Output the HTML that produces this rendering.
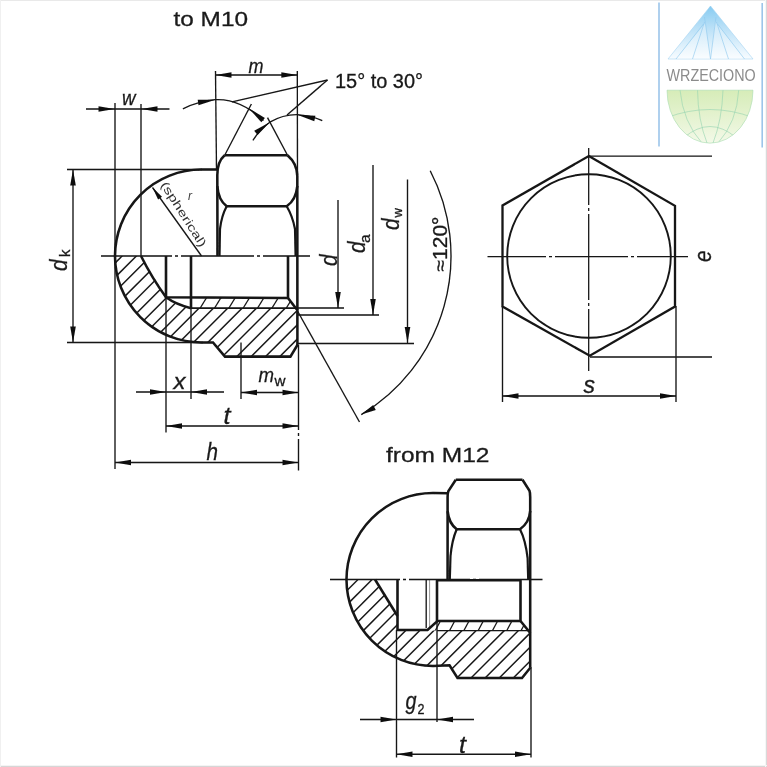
<!DOCTYPE html>
<html><head><meta charset="utf-8"><title>Cap nut drawing</title>
<style>
html,body{margin:0;padding:0;background:#fff;}
body{width:767px;height:767px;overflow:hidden;position:relative;}
svg{display:block;position:absolute;left:0;top:0;}
text{font-family:"Liberation Sans",sans-serif;}
</style></head><body>
<svg width="767" height="767" viewBox="0 0 767 767">
<defs>
<linearGradient id="gb" x1="0" y1="0" x2="0" y2="1"><stop offset="0" stop-color="#86cbf1"/><stop offset="0.4" stop-color="#b9e0f7"/><stop offset="1" stop-color="#f8fcff"/></linearGradient>
<linearGradient id="gg" x1="0" y1="0" x2="0" y2="1"><stop offset="0" stop-color="#d6ecb8"/><stop offset="1" stop-color="#f3f9e8"/></linearGradient>
<filter id="soft" x="-2%" y="-2%" width="104%" height="104%"><feGaussianBlur stdDeviation="0.4"/></filter>

<clipPath id="c1"><path d="M115,256 A86.5,86.5 0 0 0 201.5,342.5 L213,342.5 L225,356.6 L290.4,356.6 L297.7,344.5 L297.5,311 L288,308.2 L191,308.2 Q176,304.5 166,297.3 L141,256 Z"/></clipPath>
<clipPath id="c1b"><path d="M191,297.8 L288,297.8 L296,308.2 L191,308.2 Z"/></clipPath>
<clipPath id="c2"><path d="M346.5,579.5 A86.5,86.5 0 0 0 433,666 L449.5,665.3 L457.5,678 L522,678 L530.5,667.5 L530.5,633 L528,630.5 L397.5,630.5 L397.5,616 L375,579.5 Z"/></clipPath>
<clipPath id="c2b"><path d="M437.5,621 L520.5,621 L529,630.5 L427.5,630.5 Z"/></clipPath>
</defs>
<rect x="0" y="0" width="767" height="767" fill="#fff"/>
<rect x="0" y="0" width="767" height="1" fill="#e9e9e9"/><rect x="0" y="766" width="767" height="1" fill="#d6d6d6"/><rect x="766" y="0" width="1" height="767" fill="#d9d9d9"/><rect x="0" y="765" width="767" height="1" fill="#f4f4f4"/><rect x="765" y="0" width="1" height="767" fill="#f6f6f6"/><rect x="0" y="0" width="1" height="767" fill="#f0f0f0"/>
<g filter="url(#soft)" stroke="#151515" fill="none" stroke-linecap="butt">
<g clip-path="url(#c1)" stroke-width="1.45">
<line x1="5.7" y1="358" x2="108.7" y2="255"/>
<line x1="20.1" y1="358" x2="123.1" y2="255"/>
<line x1="34.4" y1="358" x2="137.4" y2="255"/>
<line x1="48.8" y1="358" x2="151.8" y2="255"/>
<line x1="63.1" y1="358" x2="166.1" y2="255"/>
<line x1="77.5" y1="358" x2="180.5" y2="255"/>
<line x1="91.8" y1="358" x2="194.8" y2="255"/>
<line x1="106.2" y1="358" x2="209.2" y2="255"/>
<line x1="120.5" y1="358" x2="223.5" y2="255"/>
<line x1="134.9" y1="358" x2="237.9" y2="255"/>
<line x1="149.2" y1="358" x2="252.2" y2="255"/>
<line x1="163.6" y1="358" x2="266.6" y2="255"/>
<line x1="177.9" y1="358" x2="280.9" y2="255"/>
<line x1="192.3" y1="358" x2="295.3" y2="255"/>
<line x1="206.6" y1="358" x2="309.6" y2="255"/>
<line x1="221.0" y1="358" x2="324.0" y2="255"/>
<line x1="235.4" y1="358" x2="338.4" y2="255"/>
<line x1="249.7" y1="358" x2="352.7" y2="255"/>
<line x1="264.1" y1="358" x2="367.1" y2="255"/>
<line x1="278.4" y1="358" x2="381.4" y2="255"/>
<line x1="292.8" y1="358" x2="395.8" y2="255"/>
</g>
<g clip-path="url(#c1b)" stroke-width="1.25">
<line x1="197.8" y1="312" x2="208.8" y2="294"/>
<line x1="212.2" y1="312" x2="223.2" y2="294"/>
<line x1="226.5" y1="312" x2="237.5" y2="294"/>
<line x1="240.8" y1="312" x2="251.8" y2="294"/>
<line x1="255.2" y1="312" x2="266.2" y2="294"/>
<line x1="269.6" y1="312" x2="280.6" y2="294"/>
<line x1="283.9" y1="312" x2="294.9" y2="294"/>
</g>
<path d="M115,256 A86.5,86.5 0 0 1 201.5,169.5 L217.5,169.5" stroke-width="2.55" fill="none" />
<path d="M115,256 A86.5,86.5 0 0 0 201.5,342.5 L213,342.5 L225,356.6 L290.4,356.6 L297.7,344.5" stroke-width="2.55" fill="none" />
<path d="M224.7,155.2 L287.5,155.2" stroke-width="2.55" fill="none" />
<path d="M224.7,155.2 C219,160 217.3,166 217.3,175 L217.5,256" stroke-width="2.55" fill="none" />
<path d="M287.5,155.2 C293,160 297.3,167 297.3,176 L297.4,345" stroke-width="2.55" fill="none" />
<path d="M217.3,186 C218,195 221,202 226.7,206.3 L286.7,206.3 C293,202 296.5,195 297.3,186" stroke-width="2.55" fill="none" />
<path d="M226.7,206.3 Q221.5,216 220,229 L219.5,256" stroke-width="2.2" fill="none" />
<path d="M286.7,206.3 Q292.5,216 295,229 L295.6,256" stroke-width="2.2" fill="none" />
<path d="M141,256 Q152,278 166,297.3 Q176,304.5 191,308.2" stroke-width="2.55" fill="none" />
<path d="M166,256 L166,297.3 L288,297.9 L288,256" stroke-width="2.55" fill="none" />
<line x1="191" y1="256" x2="191" y2="308.2" stroke-width="2.55" />
<line x1="191" y1="308.2" x2="296.5" y2="308.2" stroke-width="1.7" />
<line x1="288" y1="297.9" x2="297.6" y2="310.5" stroke-width="2.55" />
<path d="M101,256 H172 M175,256 H178 M181,256 H254 M257,256 H260 M263,256 H310" stroke-width="1.4" fill="none" />
<line x1="115" y1="103" x2="115" y2="469" stroke-width="1.35" />
<line x1="141" y1="104" x2="141" y2="256" stroke-width="1.35" />
<line x1="215.5" y1="71" x2="216.5" y2="170" stroke-width="1.35" />
<line x1="297.3" y1="71" x2="297.5" y2="175" stroke-width="1.35" />
<line x1="166" y1="296" x2="166" y2="432.5" stroke-width="1.35" />
<line x1="191" y1="307" x2="191" y2="399" stroke-width="1.35" />
<line x1="241" y1="342.5" x2="241" y2="399" stroke-width="1.35" />
<path d="M298.5,345 V430 M298.5,433 V436 M298.5,439 V470.5" stroke-width="1.35" fill="none" />
<line x1="67" y1="169.5" x2="202" y2="169.5" stroke-width="1.35" />
<line x1="67" y1="342.5" x2="203" y2="342.5" stroke-width="1.35" />
<line x1="297" y1="343.5" x2="414" y2="343.5" stroke-width="1.35" />
<line x1="297" y1="308" x2="344" y2="308" stroke-width="1.35" />
<line x1="297" y1="315" x2="379" y2="315" stroke-width="1.35" />
<line x1="297.5" y1="311" x2="359.5" y2="422" stroke-width="1.35" />
<line x1="224.7" y1="155.2" x2="251.4" y2="104" stroke-width="1.35" />
<line x1="287.5" y1="155.2" x2="267.5" y2="117.6" stroke-width="1.35" />
<path d="M182.9,108.8 Q199,101 215.4,99.7 Q240,98.5 263.5,120.4" stroke-width="1.35" fill="none" />
<path d="M252.9,140.4 Q260,129 269.8,122.2 Q283,114.5 297.2,114.7 Q310,115.5 322.3,120.6" stroke-width="1.35" fill="none" />
<polygon points="215.4,99.8 198.5,105.2 197.7,99.7" fill="#111" stroke="none"/>
<polygon points="248.5,107.9 264.9,118.0 261.3,122.3" fill="#111" stroke="none"/>
<polygon points="269.8,122.2 257.6,135.1 254.2,130.7" fill="#111" stroke="none"/>
<polygon points="297.2,114.8 315.4,115.8 314.3,121.2" fill="#111" stroke="none"/>
<line x1="327.5" y1="80" x2="232" y2="101.8" stroke-width="1.35" />
<line x1="327.5" y1="80" x2="287" y2="115" stroke-width="1.35" />
<line x1="86" y1="109" x2="169.5" y2="109" stroke-width="1.35" />
<polygon points="114.5,109.0 98.5,111.8 98.5,106.2" fill="#111" stroke="none"/>
<polygon points="141.5,109.0 157.5,106.2 157.5,111.8" fill="#111" stroke="none"/>
<line x1="215.5" y1="75" x2="297.3" y2="75" stroke-width="1.35" />
<polygon points="215.5,75.0 231.5,72.2 231.5,77.8" fill="#111" stroke="none"/>
<polygon points="297.3,75.0 281.3,77.8 281.3,72.2" fill="#111" stroke="none"/>
<line x1="73" y1="169.5" x2="73" y2="342.5" stroke-width="1.35" />
<polygon points="73.0,169.5 75.8,185.5 70.2,185.5" fill="#111" stroke="none"/>
<polygon points="73.0,342.5 70.2,326.5 75.8,326.5" fill="#111" stroke="none"/>
<line x1="136" y1="392" x2="224" y2="392" stroke-width="1.35" />
<polygon points="166.0,392.0 150.0,394.8 150.0,389.2" fill="#111" stroke="none"/>
<polygon points="191.0,392.0 207.0,389.2 207.0,394.8" fill="#111" stroke="none"/>
<line x1="241" y1="392.5" x2="298.5" y2="392.5" stroke-width="1.35" />
<polygon points="241.0,392.5 257.0,389.7 257.0,395.3" fill="#111" stroke="none"/>
<polygon points="298.5,392.5 282.5,395.3 282.5,389.7" fill="#111" stroke="none"/>
<line x1="166" y1="426" x2="298.5" y2="426" stroke-width="1.35" />
<polygon points="166.0,426.0 182.0,423.2 182.0,428.8" fill="#111" stroke="none"/>
<polygon points="298.5,426.0 282.5,428.8 282.5,423.2" fill="#111" stroke="none"/>
<line x1="115" y1="462.5" x2="298.5" y2="462.5" stroke-width="1.35" />
<polygon points="115.0,462.5 131.0,459.7 131.0,465.3" fill="#111" stroke="none"/>
<polygon points="298.5,462.5 282.5,465.3 282.5,459.7" fill="#111" stroke="none"/>
<line x1="338" y1="200" x2="338" y2="308" stroke-width="1.35" />
<polygon points="338.0,308.0 335.2,292.0 340.8,292.0" fill="#111" stroke="none"/>
<line x1="373" y1="165" x2="373" y2="315" stroke-width="1.35" />
<polygon points="373.0,315.0 370.2,299.0 375.8,299.0" fill="#111" stroke="none"/>
<line x1="407.5" y1="179.5" x2="407.5" y2="343" stroke-width="1.35" />
<polygon points="407.5,343.0 404.7,327.0 410.3,327.0" fill="#111" stroke="none"/>
<path d="M430.2,170.8 A185,185 0 0 1 361.3,414.6" stroke-width="1.35" fill="none" />
<polygon points="361.3,414.6 373.2,405.1 375.8,410.0" fill="#111" stroke="none"/>
<line x1="152.5" y1="187.5" x2="201.5" y2="256" stroke-width="1.35" />
<polygon points="152.5,187.5 162.0,196.7 158.1,199.5" fill="#111" stroke="none"/>
<polygon points="588.8,156 675,205.8 675,306.5 589.8,355.8 502.5,306.5 502.5,205.5" stroke-width="2.3"/>
<circle cx="589" cy="256" r="81.8" stroke-width="1.9"/>
<path d="M487.5,256.7 H546 M549,256.7 H552 M555,256.7 H628 M631,256.7 H634 M637,256.7 H688" stroke-width="1.3" fill="none" />
<path d="M588.7,148 V205 M588.7,208 V211 M588.7,214 V300 M588.7,303 V306 M588.7,309 V371" stroke-width="1.3" fill="none" />
<line x1="588.5" y1="156.2" x2="712" y2="156.2" stroke-width="1.3" />
<line x1="590" y1="357" x2="712" y2="357" stroke-width="1.3" />
<line x1="502.5" y1="306" x2="502.5" y2="402" stroke-width="1.35" />
<line x1="676" y1="306" x2="676" y2="402" stroke-width="1.35" />
<line x1="502.5" y1="396" x2="676" y2="396" stroke-width="1.35" />
<polygon points="502.5,396.0 518.5,393.2 518.5,398.8" fill="#111" stroke="none"/>
<polygon points="676.0,396.0 660.0,398.8 660.0,393.2" fill="#111" stroke="none"/>
<g clip-path="url(#c2)" stroke-width="1.45">
<line x1="229.3" y1="680" x2="331.3" y2="578"/>
<line x1="243.4" y1="680" x2="345.4" y2="578"/>
<line x1="257.5" y1="680" x2="359.5" y2="578"/>
<line x1="271.6" y1="680" x2="373.6" y2="578"/>
<line x1="285.7" y1="680" x2="387.7" y2="578"/>
<line x1="299.8" y1="680" x2="401.8" y2="578"/>
<line x1="313.9" y1="680" x2="415.9" y2="578"/>
<line x1="328.0" y1="680" x2="430.0" y2="578"/>
<line x1="342.1" y1="680" x2="444.1" y2="578"/>
<line x1="356.2" y1="680" x2="458.2" y2="578"/>
<line x1="370.3" y1="680" x2="472.3" y2="578"/>
<line x1="384.4" y1="680" x2="486.4" y2="578"/>
<line x1="398.5" y1="680" x2="500.5" y2="578"/>
<line x1="412.6" y1="680" x2="514.6" y2="578"/>
<line x1="426.7" y1="680" x2="528.7" y2="578"/>
<line x1="440.8" y1="680" x2="542.8" y2="578"/>
<line x1="454.9" y1="680" x2="556.9" y2="578"/>
<line x1="469.0" y1="680" x2="571.0" y2="578"/>
<line x1="483.1" y1="680" x2="585.1" y2="578"/>
<line x1="497.2" y1="680" x2="599.2" y2="578"/>
<line x1="511.3" y1="680" x2="613.3" y2="578"/>
<line x1="525.4" y1="680" x2="627.4" y2="578"/>
</g>
<g clip-path="url(#c2b)" stroke-width="1.25">
<line x1="419.7" y1="633" x2="427.7" y2="618"/>
<line x1="434.0" y1="633" x2="442.0" y2="618"/>
<line x1="448.3" y1="633" x2="456.3" y2="618"/>
<line x1="462.6" y1="633" x2="470.6" y2="618"/>
<line x1="476.9" y1="633" x2="484.9" y2="618"/>
<line x1="491.2" y1="633" x2="499.2" y2="618"/>
<line x1="505.5" y1="633" x2="513.5" y2="618"/>
<line x1="519.8" y1="633" x2="527.8" y2="618"/>
</g>
<path d="M346.5,579.5 A86.5,86.5 0 0 1 433,493 L447.5,493.2" stroke-width="2.55" fill="none" />
<path d="M346.5,579.5 A86.5,86.5 0 0 0 433,666 L449.5,665.3 L457.5,678 L522,678 L530.5,667.5" stroke-width="2.55" fill="none" />
<path d="M455.8,479.7 L522.5,479.7" stroke-width="2.55" fill="none" />
<path d="M455.8,479.7 L448.4,491 Q447.6,493 447.6,497 L447.6,579.5" stroke-width="2.55" fill="none" />
<path d="M522.5,479.7 L529.4,490.5 Q530.2,492.5 530.2,497 L530.2,667.5" stroke-width="2.55" fill="none" />
<path d="M447.6,511 C448.5,520 451,525 456.7,529.2 L520,529.2 C526,525 529.5,520 530.2,511" stroke-width="2.55" fill="none" />
<path d="M456.7,529.2 Q452,540 450.5,556 L449.8,579.5" stroke-width="2.2" fill="none" />
<path d="M520,529.2 Q525.5,540 527.6,558 L528.2,579.5" stroke-width="2.2" fill="none" />
<path d="M375,579.5 L397.5,616" stroke-width="2.55" fill="none" />
<path d="M397.5,579.5 L397.5,630 L427.5,630 L437.5,621 L520.5,621 L520.5,579.5" stroke-width="2.55" fill="none" />
<line x1="437" y1="579.5" x2="437" y2="621" stroke-width="2.55" />
<line x1="437" y1="580.2" x2="520.5" y2="580.2" stroke-width="2.55" />
<line x1="520.5" y1="621" x2="530.3" y2="633" stroke-width="2.55" />
<line x1="426.2" y1="579.5" x2="426.2" y2="628" stroke-width="1.35" />
<line x1="429.6" y1="579.5" x2="429.6" y2="627" stroke-width="1.0" opacity="0.45"/>
<line x1="437" y1="630.7" x2="528.5" y2="630.7" stroke-width="1.2" />
<path d="M330,579.5 H400 M403,579.5 H406 M409,579.5 H470 M473,579.5 H476 M479,579.5 H542.5" stroke-width="1.3" fill="none" />
<line x1="396.5" y1="630" x2="396.5" y2="757.5" stroke-width="1.35" />
<line x1="437" y1="621" x2="437" y2="722" stroke-width="1.35" />
<path d="M531,667 V757.5" stroke-width="1.35" fill="none" />
<line x1="360" y1="719.5" x2="474" y2="719.5" stroke-width="1.35" />
<polygon points="396.5,719.5 380.5,722.3 380.5,716.7" fill="#111" stroke="none"/>
<polygon points="437.0,719.5 453.0,716.7 453.0,722.3" fill="#111" stroke="none"/>
<line x1="396.5" y1="754.2" x2="531" y2="754.2" stroke-width="1.35" />
<polygon points="396.5,754.2 412.5,751.4 412.5,757.0" fill="#111" stroke="none"/>
<polygon points="531.0,754.2 515.0,757.0 515.0,751.4" fill="#111" stroke="none"/>
</g>
<g fill="#1a1a1a" stroke="#1a1a1a" stroke-width="0.3" filter="url(#soft)">
<text x="173.5" y="26.3" font-size="21" textLength="74.5" lengthAdjust="spacingAndGlyphs" >to M10</text>
<text x="386" y="462" font-size="21" textLength="103.5" lengthAdjust="spacingAndGlyphs" >from M12</text>
<text x="335" y="87.5" font-size="20" textLength="88" lengthAdjust="spacingAndGlyphs" >15° to 30°</text>
<text x="248.5" y="72.5" font-size="21" font-style="italic" textLength="15" lengthAdjust="spacingAndGlyphs" >m</text>
<text x="122" y="105" font-size="21" font-style="italic" textLength="13.5" lengthAdjust="spacingAndGlyphs" >w</text>
<text x="173.5" y="388.5" font-size="22" font-style="italic" textLength="12" lengthAdjust="spacingAndGlyphs" >x</text>
<text x="223.5" y="424" font-size="23.5" font-style="italic" textLength="7" lengthAdjust="spacingAndGlyphs" >t</text>
<text x="206.5" y="459.5" font-size="24" font-style="italic" textLength="11.5" lengthAdjust="spacingAndGlyphs" >h</text>
<text x="258.5" y="382" font-size="21" font-style="italic" textLength="15.5" lengthAdjust="spacingAndGlyphs" >m</text>
<text x="274.5" y="385.5" font-size="14.5" textLength="11" lengthAdjust="spacingAndGlyphs" >w</text>
<text x="583.5" y="392.5" font-size="23" font-style="italic" textLength="11.5" lengthAdjust="spacingAndGlyphs" >s</text>
<text x="711" y="262" font-size="23" font-style="italic" transform="rotate(-90 711 262)" textLength="11.5" lengthAdjust="spacingAndGlyphs" >e</text>
<text x="67" y="271" font-size="24" font-style="italic" transform="rotate(-90 67 271)" textLength="11.5" lengthAdjust="spacingAndGlyphs" >d</text>
<text x="70" y="257" font-size="15" transform="rotate(-90 70 257)" >k</text>
<text x="337" y="266" font-size="24" font-style="italic" transform="rotate(-90 337 266)" textLength="11.5" lengthAdjust="spacingAndGlyphs" >d</text>
<text x="365" y="253" font-size="24" font-style="italic" transform="rotate(-90 365 253)" textLength="11.5" lengthAdjust="spacingAndGlyphs" >d</text>
<text x="370" y="243" font-size="15.5" transform="rotate(-90 370 243)" >a</text>
<text x="399" y="230" font-size="24" font-style="italic" transform="rotate(-90 399 230)" textLength="11.5" lengthAdjust="spacingAndGlyphs" >d</text>
<text x="402" y="217.5" font-size="13" transform="rotate(-90 402 217.5)" >w</text>
<text x="447" y="271.5" font-size="19.5" transform="rotate(-90 447 271.5)" textLength="55" lengthAdjust="spacingAndGlyphs" >≈120°</text>
<text x="405.5" y="709" font-size="23" font-style="italic" textLength="11" lengthAdjust="spacingAndGlyphs" >g</text>
<text x="417.5" y="714" font-size="14" textLength="7" lengthAdjust="spacingAndGlyphs" >2</text>
<text x="459" y="752.5" font-size="23.5" font-style="italic" textLength="7" lengthAdjust="spacingAndGlyphs" >t</text>
<text x="160.2" y="184.8" font-size="11.5" fill="#333" stroke="none" transform="rotate(57.5 160.2 184.8)" textLength="75" lengthAdjust="spacingAndGlyphs">(spherical)</text>
<text x="188" y="200" font-size="12" fill="#3a3a3a" stroke="none" font-style="italic">r</text>
</g>
<g>
<rect x="658.2" y="2.5" width="1.6" height="144" fill="#9cc5ea"/><rect x="761.4" y="3" width="1.6" height="144.5" fill="#9cc5ea"/>
<polygon points="710.5,6 753,59 668,59" fill="url(#gb)" stroke="#a5d4f2" stroke-width="0.6"/>
<polygon points="704.7,23.7 676.3,59 744.7,59 716.3,23 710.4,14" fill="#fff" opacity="0.33"/>
<polygon points="704.5,16.3 710.4,59 715.9,16.3 710.3,6.2" fill="url(#gb)"/>
<g stroke="#8fc9ee" stroke-width="0.7" fill="none" opacity="0.9">
<line x1="676" y1="59" x2="703.5" y2="24"/>
<line x1="692.5" y1="59" x2="704.5" y2="22"/>
<line x1="710.5" y1="59" x2="704.5" y2="17"/>
<line x1="710.5" y1="59" x2="716" y2="17"/>
<line x1="728.5" y1="59" x2="716.5" y2="22"/>
<line x1="744.5" y1="59" x2="717.5" y2="24"/>
</g>
<text x="666.5" y="81.2" font-size="16.6" fill="#8b8b8b" textLength="89.2" lengthAdjust="spacingAndGlyphs">WRZECIONO</text>
<path id="globe" d="M667,90.2 L753,90.2 A43,53 0 0 1 667,90.2 Z" fill="url(#gg)" stroke="#a8dcae" stroke-width="0.6"/>
<clipPath id="cg"><path d="M667,90.2 L753,90.2 A43,53 0 0 1 667,90.2 Z"/></clipPath>
<g clip-path="url(#cg)" stroke="#93d4b0" stroke-width="0.6" fill="none">
<path d="M680,90 Q683,122 702,143"/><path d="M697.5,90 Q698,120 707,143"/><path d="M723,90 Q722,120 713,143"/><path d="M738.7,90 Q737,122 718,143"/>
<path d="M667,117.5 Q710,101.5 753,117.5"/><path d="M684,137.5 Q710,115.5 736,137.5"/>
</g></g>
</svg></body></html>
